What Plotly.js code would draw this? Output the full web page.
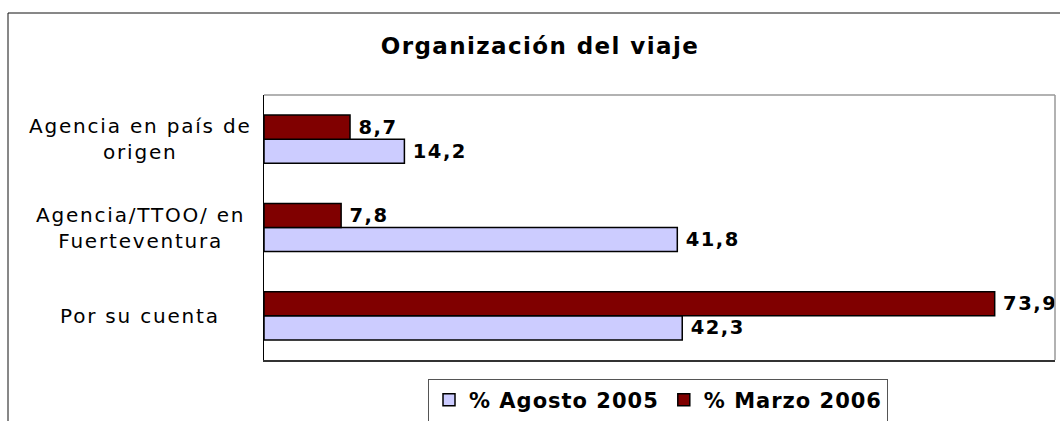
<!DOCTYPE html>
<html><head><meta charset="utf-8">
<script src="https://cdn.plot.ly/plotly-3.0.1.min.js"></script>
<style>html,body{margin:0;padding:0;background:#fff}#chart{width:1060px;height:421px}
svg text{letter-spacing:1.5px}
svg text.annotation-text{letter-spacing:1.8px}
svg text.gtitle{letter-spacing:1.4px}
svg text.legendtext{letter-spacing:1px}</style>
</head><body><div id="chart"></div>
<script>
const categories = ["Por su cuenta", "Agencia/TTOO/ en<br>Fuerteventura", "Agencia en país de<br>origen"];
const agosto2005 = [42.3, 41.8, 14.2];
const marzo2006 = [73.9, 7.8, 8.7];
const seriesNames = ["% Agosto 2005", "% Marzo 2006"];
const titleText = "Organización del viaje";

const FONT = "DejaVu Sans, Verdana, sans-serif";
const L = 264, R = 5, T = 95, B = 61, W = 1060, H = 421;
const pw = W - L - R, ph = H - T - B;
const px = X => (X - L) / pw;
const py = Y => (H - B - Y) / ph;

const common = {
  type: 'bar', orientation: 'h', y: categories,
  texttemplate: '\u2009%{x:.1f}', textposition: 'outside', cliponaxis: false,
  textfont: {family: FONT, size: 19.5, color: '#000', weight: 'bold'},
  hoverinfo: 'skip'
};
const traces = [
  Object.assign({}, common, {x: agosto2005, name: seriesNames[0],
    marker: {color: '#CCCCFF', line: {color: '#000', width: 1.5}}}),
  Object.assign({}, common, {x: marzo2006, name: seriesNames[1],
    marker: {color: '#800000', line: {color: '#000', width: 1.5}}})
];

const catAnnotations = categories.map(c => ({
  text: c, xref: 'paper', yref: 'y', x: px(140), y: c, xanchor: 'center', yanchor: 'middle',
  align: 'center', showarrow: false, font: {family: FONT, size: 20, color: '#000'}
}));

const layout = {
  width: W, height: H,
  margin: {l: L, r: R, t: T, b: B, pad: 0, autoexpand: false},
  paper_bgcolor: '#fff', plot_bgcolor: '#fff',
  separators: ', ',
  barmode: 'group', bargap: 0.455, bargroupgap: 0,
  font: {family: FONT, color: '#000'},
  title: {text: '<b>' + titleText + '</b>', font: {family: FONT, size: 23, color: '#000'},
    x: 540 / W, xanchor: 'center', y: 1 - 46 / H, yanchor: 'middle', xref: 'container', yref: 'container'},
  xaxis: {range: [0, 80], showticklabels: false, showgrid: false, zeroline: false,
    showline: true, linecolor: '#333', linewidth: 1.5, ticks: '', fixedrange: true},
  yaxis: {type: 'category', showgrid: false, zeroline: false, showline: true,
    linecolor: '#000', linewidth: 1.5, ticks: '', showticklabels: false, automargin: false},
  annotations: catAnnotations,
  showlegend: true,
  legend: {orientation: 'h', x: px(658), xanchor: 'center', y: py(400), yanchor: 'middle',
    bordercolor: '#555', borderwidth: 1, bgcolor: '#fff',
    font: {family: FONT, size: 21, color: '#000', weight: 'bold'},
    itemwidth: 30, traceorder: 'normal'},
  shapes: [
    {type: 'rect', xref: 'paper', yref: 'paper', x0: px(8), x1: px(1080), y0: py(440), y1: py(13),
      line: {color: '#111', width: 1}, fillcolor: 'rgba(0,0,0,0)', layer: 'below'},
    {type: 'line', xref: 'paper', yref: 'paper', x0: 0, x1: 1, y0: 1, y1: 1,
      line: {color: '#999', width: 1.5}},
    {type: 'line', xref: 'paper', yref: 'paper', x0: 1, x1: 1, y0: 0, y1: 1,
      line: {color: '#999', width: 1.5}}
  ]
};

Plotly.newPlot('chart', traces, layout, {staticPlot: true, displayModeBar: false});
</script></body></html>
